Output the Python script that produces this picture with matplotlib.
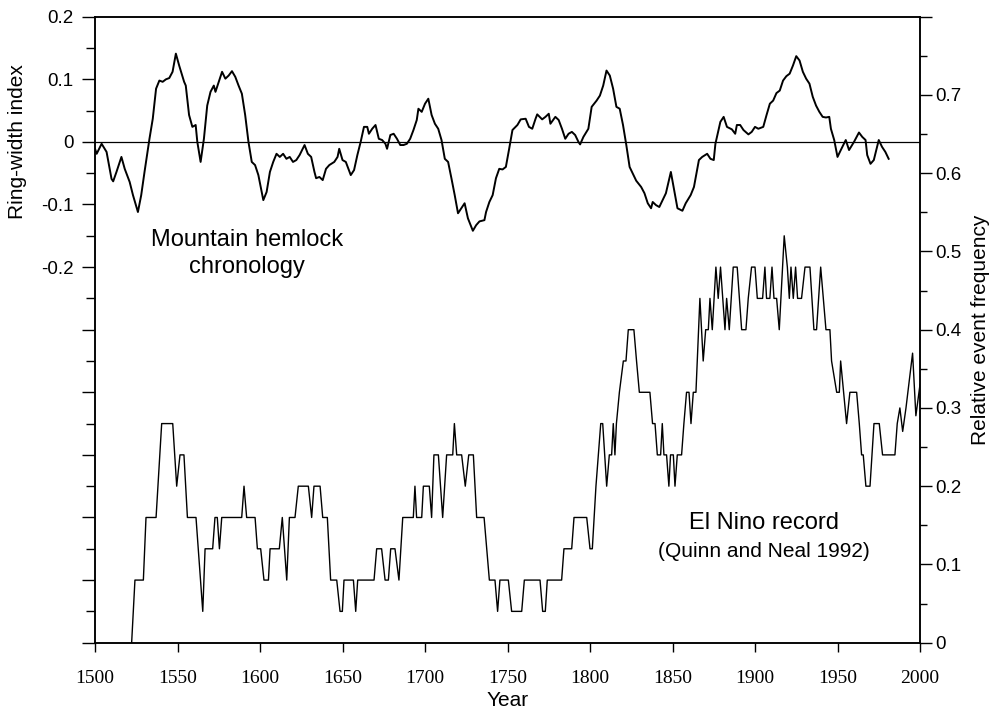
import matplotlib
matplotlib.use("Agg")
import matplotlib.pyplot as plt
from matplotlib.ticker import MultipleLocator, FuncFormatter, NullLocator

plt.rcParams['font.family'] = ['Liberation Sans', 'DejaVu Sans']

# Mountain hemlock ring-width chronology (left axis)
hemlock_years = [
    1500, 1501, 1504, 1507, 1510, 1511, 1513, 1516, 1518, 1521, 1523, 1526, 1528, 1530,
    1533, 1535, 1537, 1539, 1541, 1543, 1545, 1547, 1549, 1551, 1554, 1555, 1557, 1559,
    1561, 1562, 1564, 1566, 1568, 1570, 1572, 1573, 1575, 1577, 1579, 1581, 1583, 1585,
    1587, 1589, 1591, 1593, 1595, 1597, 1599, 1601, 1602, 1604, 1606, 1608, 1610, 1612,
    1614, 1616, 1618, 1620, 1622, 1624, 1627, 1629, 1631, 1633, 1634, 1636, 1638, 1640,
    1642, 1645, 1647, 1648, 1650, 1652, 1655, 1657, 1659, 1661, 1663, 1665, 1666, 1668,
    1670, 1672, 1674, 1676, 1677, 1679, 1681, 1683, 1685, 1687, 1689, 1691, 1693, 1695,
    1696, 1698, 1700, 1702, 1704, 1706, 1708, 1710, 1712, 1714, 1716, 1718, 1720, 1722,
    1724, 1726, 1729, 1731, 1733, 1736, 1737, 1739, 1741, 1743, 1745, 1747, 1749, 1751,
    1753, 1756, 1758, 1761, 1763, 1765, 1767, 1768, 1771, 1773, 1775, 1776, 1779, 1781,
    1783, 1785, 1787, 1789, 1791, 1793, 1794, 1796, 1799, 1801, 1804, 1806, 1808, 1810,
    1812, 1814, 1816, 1818, 1820, 1822, 1824, 1826, 1828, 1831, 1833, 1835, 1837, 1838,
    1840, 1842, 1844, 1846, 1849, 1851, 1853, 1856, 1858, 1861, 1863, 1866, 1868, 1871,
    1873, 1875, 1876, 1879, 1881, 1883, 1886, 1888, 1889, 1891, 1893, 1896, 1898, 1900,
    1902, 1905, 1907, 1909, 1911, 1913, 1915, 1917, 1919, 1921, 1923, 1925, 1927, 1929,
    1931, 1933, 1935, 1937, 1939, 1941, 1943, 1945, 1946, 1948, 1950, 1952, 1955, 1957,
    1960, 1963, 1965, 1967, 1968, 1970, 1972, 1974, 1975, 1977, 1979, 1981,
]
hemlock_index = [
    -0.011, -0.019, -0.003, -0.016, -0.059, -0.063, -0.048, -0.024, -0.043, -0.064, -0.085, -0.112, -0.085, -0.048,
    0.005, 0.037, 0.085, 0.098, 0.096, 0.100, 0.102, 0.112, 0.141, 0.122, 0.096, 0.090, 0.043, 0.024,
    0.027, 0.000, -0.032, 0.005, 0.058, 0.080, 0.090, 0.080, 0.096, 0.112, 0.101, 0.106, 0.113, 0.104,
    0.090, 0.077, 0.043, 0.000, -0.032, -0.037, -0.053, -0.080, -0.093, -0.080, -0.048, -0.032, -0.019, -0.024,
    -0.019, -0.027, -0.024, -0.032, -0.029, -0.021, -0.005, -0.019, -0.024, -0.048, -0.058, -0.056, -0.061, -0.043,
    -0.037, -0.032, -0.024, -0.011, -0.029, -0.032, -0.053, -0.045, -0.021, 0.000, 0.024, 0.024, 0.013, 0.021,
    0.027, 0.005, 0.003, -0.003, -0.011, 0.011, 0.013, 0.005, -0.005, -0.005, -0.003, 0.005, 0.019, 0.035,
    0.053, 0.048, 0.061, 0.069, 0.043, 0.029, 0.021, 0.003, -0.027, -0.032, -0.058, -0.085, -0.114, -0.106,
    -0.098, -0.122, -0.142, -0.133, -0.127, -0.125, -0.112, -0.096, -0.085, -0.058, -0.043, -0.044, -0.040, -0.011,
    0.019, 0.027, 0.036, 0.037, 0.024, 0.021, 0.037, 0.044, 0.036, 0.040, 0.045, 0.029, 0.040, 0.035,
    0.021, 0.005, 0.013, 0.016, 0.011, 0.000, -0.004, 0.008, 0.021, 0.056, 0.066, 0.074, 0.090, 0.114,
    0.106, 0.085, 0.056, 0.053, 0.027, -0.005, -0.040, -0.051, -0.062, -0.072, -0.082, -0.098, -0.106, -0.096,
    -0.101, -0.104, -0.093, -0.082, -0.048, -0.077, -0.106, -0.110, -0.098, -0.085, -0.072, -0.029, -0.024, -0.019,
    -0.027, -0.029, -0.003, 0.032, 0.040, 0.024, 0.020, 0.013, 0.027, 0.027, 0.019, 0.012, 0.016, 0.024,
    0.021, 0.024, 0.043, 0.061, 0.066, 0.078, 0.082, 0.098, 0.105, 0.109, 0.122, 0.137, 0.130, 0.112,
    0.101, 0.093, 0.072, 0.058, 0.048, 0.040, 0.039, 0.040, 0.021, 0.003, -0.024, -0.013, 0.003, -0.013,
    0.000, 0.015, 0.008, 0.003, -0.021, -0.035, -0.029, -0.008, 0.003, -0.008, -0.016, -0.027,
]

# El Nino relative event frequency (right axis), vertices of the record
nino_years = [
    1522.2, 1524.2, 1529.3, 1530.9, 1537.0, 1540.4, 1547.1, 1549.5, 1551.5, 1553.9, 1556.0, 1561.2,
    1565.3, 1566.7, 1571.3, 1572.7, 1574.1, 1575.4, 1576.8, 1588.9, 1590.3, 1591.9, 1597.0, 1598.4,
    1600.4, 1602.4, 1605.1, 1606.1, 1611.7, 1613.5, 1616.2, 1617.8, 1621.2, 1623.2, 1629.3, 1631.3,
    1632.7, 1636.4, 1638.0, 1640.8, 1642.8, 1646.5, 1648.5, 1649.9, 1650.9, 1656.6, 1658.0, 1659.2,
    1669.1, 1670.7, 1673.7, 1675.8, 1677.8, 1679.2, 1681.8, 1684.2, 1686.5, 1692.9, 1693.9, 1694.9,
    1698.0, 1699.0, 1702.6, 1704.0, 1705.4, 1708.1, 1710.7, 1713.1, 1716.8, 1717.8, 1719.2, 1722.2,
    1724.4, 1726.5, 1729.3, 1731.3, 1735.8, 1739.0, 1742.4, 1744.0, 1745.4, 1750.5, 1752.5, 1758.6,
    1760.2, 1769.7, 1771.3, 1772.9, 1774.1, 1782.8, 1784.2, 1788.9, 1790.3, 1798.0, 1800.0, 1801.4,
    1803.6, 1806.5, 1807.7, 1810.1, 1811.7, 1813.1, 1814.1, 1815.1, 1816.0, 1817.8, 1820.2, 1821.8,
    1823.2, 1826.6, 1828.2, 1829.9, 1836.3, 1837.9, 1839.4, 1840.8, 1842.8, 1843.8, 1844.8, 1846.4,
    1847.8, 1848.8, 1850.5, 1851.5, 1852.9, 1855.5, 1856.9, 1858.5, 1860.0, 1861.2, 1862.6, 1864.2,
    1866.6, 1868.6, 1870.1, 1871.7, 1872.7, 1874.1, 1876.3, 1877.7, 1879.1, 1881.8, 1882.8, 1884.4,
    1886.8, 1889.2, 1891.9, 1894.5, 1895.9, 1897.9, 1900.0, 1901.4, 1904.6, 1906.0, 1907.0, 1909.0,
    1910.3, 1911.5, 1913.1, 1914.7, 1917.7, 1919.6, 1920.8, 1921.8, 1923.2, 1924.6, 1925.8, 1928.2,
    1930.3, 1933.3, 1935.7, 1937.3, 1939.8, 1941.4, 1943.0, 1945.4, 1946.4, 1949.5, 1951.1, 1951.9,
    1955.5, 1957.5, 1961.6, 1963.2, 1964.6, 1965.6, 1967.2, 1969.7, 1972.1, 1975.3, 1977.3, 1984.8,
    1986.2, 1987.8, 1989.5, 1991.5, 1995.5, 1997.5, 2000.0,
]
nino_freq = [
    0.00, 0.08, 0.08, 0.16, 0.16, 0.28, 0.28, 0.20, 0.24, 0.24, 0.16, 0.16,
    0.04, 0.12, 0.12, 0.16, 0.16, 0.12, 0.16, 0.16, 0.20, 0.16, 0.16, 0.12,
    0.12, 0.08, 0.08, 0.12, 0.12, 0.16, 0.08, 0.16, 0.16, 0.20, 0.20, 0.16,
    0.20, 0.20, 0.16, 0.16, 0.08, 0.08, 0.04, 0.04, 0.08, 0.08, 0.04, 0.08,
    0.08, 0.12, 0.12, 0.08, 0.08, 0.12, 0.12, 0.08, 0.16, 0.16, 0.20, 0.16,
    0.16, 0.20, 0.20, 0.16, 0.24, 0.24, 0.16, 0.24, 0.24, 0.28, 0.24, 0.24,
    0.20, 0.24, 0.24, 0.16, 0.16, 0.08, 0.08, 0.04, 0.08, 0.08, 0.04, 0.04,
    0.08, 0.08, 0.04, 0.04, 0.08, 0.08, 0.12, 0.12, 0.16, 0.16, 0.12, 0.12,
    0.20, 0.28, 0.28, 0.20, 0.24, 0.24, 0.28, 0.24, 0.28, 0.32, 0.36, 0.36,
    0.40, 0.40, 0.36, 0.32, 0.32, 0.28, 0.28, 0.24, 0.24, 0.28, 0.24, 0.24,
    0.20, 0.24, 0.24, 0.20, 0.24, 0.24, 0.28, 0.32, 0.32, 0.28, 0.32, 0.32,
    0.44, 0.36, 0.40, 0.40, 0.44, 0.40, 0.48, 0.44, 0.48, 0.40, 0.44, 0.40,
    0.48, 0.48, 0.40, 0.40, 0.44, 0.48, 0.48, 0.44, 0.44, 0.48, 0.44, 0.44,
    0.48, 0.44, 0.44, 0.40, 0.52, 0.48, 0.44, 0.48, 0.44, 0.48, 0.44, 0.44,
    0.48, 0.48, 0.40, 0.40, 0.48, 0.44, 0.40, 0.40, 0.36, 0.32, 0.32, 0.36,
    0.28, 0.32, 0.32, 0.28, 0.24, 0.24, 0.20, 0.20, 0.28, 0.28, 0.24, 0.24,
    0.28, 0.30, 0.27, 0.30, 0.37, 0.29, 0.33,
]

left_labels = {0.2: '0.2', 0.1: '0.1', 0.0: '0', -0.1: '-0.1', -0.2: '-0.2'}
right_labels = ['0', '0.1', '0.2', '0.3', '0.4', '0.5', '0.6', '0.7']

fig = plt.figure(figsize=(9.96, 7.11), dpi=100)
ax = fig.add_axes([0.0954, 0.0961, 0.8283, 0.8804])
ax2 = ax.twinx()

ax.plot(hemlock_years, hemlock_index, color='black', linewidth=1.4)
ax.axhline(0, color='black', linewidth=0.9)
ax2.plot(nino_years, nino_freq, color='black', linewidth=1.0)

ax.set_xlim(1500, 2000)
ax.set_ylim(-0.8, 0.2)
ax2.set_ylim(0, 0.8)

for a in (ax, ax2):
    for s in a.spines.values():
        s.set_linewidth(1.1)

# x axis
ax.xaxis.set_major_locator(MultipleLocator(50))
ax.xaxis.set_minor_locator(NullLocator())
ax.tick_params(axis='x', direction='out', length=6.5, width=1, pad=13, labelsize=14)
for lab in ax.get_xticklabels():
    lab.set_fontfamily('Liberation Serif')
ax.set_xlabel('Year', fontsize=15, labelpad=3)

# left axis
ax.yaxis.set_major_locator(MultipleLocator(0.1))
ax.yaxis.set_minor_locator(MultipleLocator(0.05))
ax.yaxis.set_major_formatter(FuncFormatter(
    lambda v, p: left_labels.get(round(v, 2) + 0.0, '')))
ax.tick_params(axis='y', which='major', direction='out', length=9.4, width=1, pad=6, labelsize=13.5)
ax.tick_params(axis='y', which='minor', direction='out', length=6.5, width=1)
ax.set_ylabel('Ring-width index', fontsize=15)
ax.yaxis.set_label_coords(-0.082, 0.801)

# right axis
ax2.yaxis.set_major_locator(MultipleLocator(0.1))
ax2.yaxis.set_minor_locator(MultipleLocator(0.05))
ax2.yaxis.set_major_formatter(FuncFormatter(
    lambda v, p: right_labels[int(round(v * 10))] if round(v * 10) < len(right_labels) else ''))
ax2.tick_params(axis='y', which='major', direction='out', length=8.6, width=1, pad=2.5, labelsize=13.5)
ax2.tick_params(axis='y', which='minor', direction='out', length=5, width=1)
ax2.set_ylabel('Relative event frequency', fontsize=15)
ax2.yaxis.set_label_coords(1.062, 0.5)

ax.text(1592, -0.166, 'Mountain hemlock', fontsize=17, ha='center', va='baseline')
ax.text(1592, -0.210, 'chronology', fontsize=17, ha='center', va='baseline')
ax2.text(1905.5, 0.145, 'El Nino record', fontsize=17, ha='center', va='baseline')
ax2.text(1905.5, 0.110, '(Quinn and Neal 1992)', fontsize=15, ha='center', va='baseline')

fig.savefig('out.png', dpi=100)
